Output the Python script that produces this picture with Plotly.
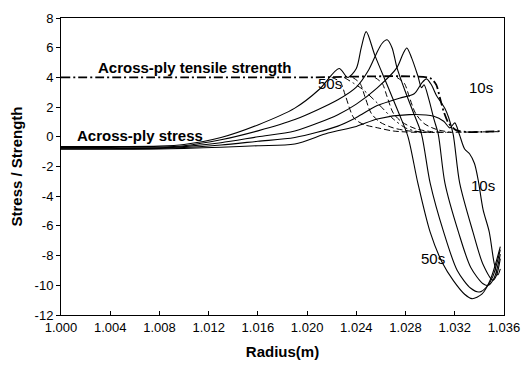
import plotly.graph_objects as go

# ---------------- data ----------------
x_ticks = [1.000, 1.004, 1.008, 1.012, 1.016, 1.020, 1.024, 1.028, 1.032, 1.036]
y_ticks = [8, 6, 4, 2, 0, -2, -4, -6, -8, -10, -12]

# Across-ply stress curves (solid)
stress_50s_x = [1.000, 1.004, 1.008, 1.010, 1.013, 1.016, 1.019, 1.021, 1.0226, 1.0233, 1.0240, 1.0244, 1.0248,
                1.0255, 1.0265, 1.0275, 1.0282, 1.0290, 1.0300, 1.0310, 1.0319, 1.0328, 1.0334, 1.0342, 1.0349, 1.0357]
stress_50s_y = [-0.66, -0.66, -0.63, -0.52, -0.05, 0.8, 1.93, 3.2, 4.6, 4.0, 4.6, 6.0, 7.08,
                5.5, 3.5, 1.5, 0.0, -3.12, -6.42, -8.5, -9.7, -10.6, -10.9, -10.6, -9.6, -7.4]

stress_40s_x = [1.000, 1.004, 1.008, 1.010, 1.013, 1.016, 1.019, 1.0225, 1.024, 1.0250, 1.0256, 1.0261, 1.0265,
                1.0269, 1.0273, 1.0280, 1.0287, 1.0293, 1.0300, 1.0311, 1.0322, 1.0333, 1.0340, 1.0346, 1.0351, 1.0357]
stress_40s_y = [-0.71, -0.71, -0.69, -0.6, -0.2, 0.4, 1.16, 2.5, 3.35, 4.5, 5.55, 6.3, 6.53,
                6.0, 4.66, 3.0, 1.5, 0.17, -3.12, -6.42, -9.0, -10.2, -10.45, -10.1, -9.4, -7.6]

stress_30s_x = [1.000, 1.004, 1.008, 1.010, 1.013, 1.016, 1.019, 1.0225, 1.024, 1.0257, 1.0273, 1.0278, 1.0281,
                1.0285, 1.0290, 1.0293, 1.0295, 1.0299, 1.0303, 1.03066, 1.0312, 1.0323, 1.0333, 1.0343, 1.0347,
                1.0352, 1.0357]
stress_30s_y = [-0.76, -0.76, -0.74, -0.66, -0.4, 0.0, 0.39, 1.49, 2.2, 3.3, 4.66, 5.6, 5.98,
                5.3, 4.1, 3.3, 3.5, 2.5, 1.2, 0.17, -3.12, -6.42, -8.8, -9.9, -10.0,
                -9.5, -7.9]

stress_20s_x = [1.000, 1.004, 1.008, 1.010, 1.013, 1.016, 1.019, 1.0225, 1.024, 1.0257, 1.0275, 1.0287, 1.0293,
                1.0297, 1.0301, 1.0305, 1.0309, 1.0312, 1.0315, 1.03187, 1.0324, 1.03348, 1.0343, 1.0351, 1.0354,
                1.0357]
stress_20s_y = [-0.80, -0.80, -0.78, -0.72, -0.55, -0.3, -0.05, 0.72, 1.3, 2.1, 2.6, 2.9, 3.6,
                3.9, 3.5, 2.8, 2.3, 1.9, 1.3, 0.17, -3.12, -6.42, -8.6, -9.65, -9.3,
                -8.2]

stress_10s_x = [1.000, 1.004, 1.008, 1.010, 1.013, 1.016, 1.019, 1.0217, 1.024, 1.0257, 1.0283, 1.0303, 1.0311,
                1.0316, 1.0320, 1.03237, 1.0328, 1.0332, 1.0336, 1.0339, 1.0343, 1.0348, 1.0352, 1.0355, 1.0357]
stress_10s_y = [-0.84, -0.84, -0.82, -0.78, -0.70, -0.6, -0.49, 0.25, 0.7, 1.2, 1.49, 1.38, 1.05,
                0.6, 0.94, 0.17, -0.82, -1.14, -1.8, -2.9, -4.9, -6.4, -8.5, -9.3, -8.9]

# Across-ply strength curves (dashed)
strength_50s_x = [1.0220, 1.0227, 1.0231, 1.0238, 1.0246, 1.0257, 1.0270, 1.0290, 1.0357]
strength_50s_y = [4.0, 3.68, 2.8, 1.27, 0.83, 0.61, 0.39, 0.3, 0.35]
strength_40s_x = [1.0237, 1.0243, 1.0247, 1.0252, 1.0259, 1.0270, 1.0284, 1.0302]
strength_40s_y = [4.0, 3.6, 2.7, 1.6, 1.0, 0.6, 0.38, 0.3]
strength_30s_x = [1.0255, 1.0261, 1.0265, 1.0270, 1.0277, 1.0288, 1.0301, 1.0313]
strength_30s_y = [4.0, 3.6, 2.7, 1.6, 1.0, 0.55, 0.35, 0.3]
strength_20s_x = [1.0273, 1.0279, 1.0283, 1.0288, 1.0295, 1.0305, 1.0317]
strength_20s_y = [4.0, 3.6, 2.7, 1.6, 0.9, 0.5, 0.3]
strength_fall_x = [1.0230, 1.0245, 1.0258, 1.0270, 1.0280, 1.0290, 1.0300]
strength_fall_y = [4.0, 3.2, 2.2, 1.2, 0.6, 0.35, 0.3]

# Across-ply tensile strength (dash-dot), 10s
tensile_x = [1.000, 1.010, 1.020, 1.0300, 1.0305, 1.0308, 1.0311, 1.0315, 1.0321, 1.0330, 1.0357]
tensile_y = [4.0, 4.0, 4.0, 3.95, 3.5, 2.6, 1.7, 0.9, 0.45, 0.32, 0.38]

# labels: (text, x, y)
curve_labels = [("50s", 1.0219, 3.6), ("10s", 1.0341, 3.3), ("10s", 1.0343, -3.3), ("50s", 1.0302, -8.2)]
series_labels = [("Across-ply tensile strength", 1.01087, 4.64), ("Across-ply stress", 1.0064, 0.1)]

# ---------------- figure ----------------
fig = go.Figure()
font_family = "Liberation Sans, Arial, sans-serif"

for xs, ys in [(stress_50s_x, stress_50s_y), (stress_40s_x, stress_40s_y), (stress_30s_x, stress_30s_y),
               (stress_20s_x, stress_20s_y), (stress_10s_x, stress_10s_y)]:
    fig.add_trace(go.Scatter(x=xs, y=ys, mode="lines",
                             line=dict(color="black", width=1.1, shape="spline", smoothing=0.8)))

for xs, ys in [(strength_50s_x, strength_50s_y), (strength_40s_x, strength_40s_y),
               (strength_30s_x, strength_30s_y), (strength_20s_x, strength_20s_y)]:
    fig.add_trace(go.Scatter(x=xs, y=ys, mode="lines",
                             line=dict(color="black", width=1, dash="6px,3px", shape="spline", smoothing=0.8)))

fig.add_trace(go.Scatter(x=strength_fall_x, y=strength_fall_y, mode="lines",
                         line=dict(color="black", width=1, dash="7px,3px,2px,3px", shape="spline", smoothing=0.8)))

fig.add_trace(go.Scatter(x=tensile_x, y=tensile_y, mode="lines",
                         line=dict(color="black", width=1.8, dash="9px,3px,2px,3px", shape="spline", smoothing=0.6)))

for text, x, y in curve_labels:
    fig.add_annotation(x=x, y=y, text=text, showarrow=False,
                       font=dict(family=font_family, size=15, color="black"))
for text, x, y in series_labels:
    fig.add_annotation(x=x, y=y, text="<b>%s</b>" % text, showarrow=False,
                       font=dict(family=font_family, size=15, color="black"))

fig.update_layout(
    width=531, height=368,
    margin=dict(l=61, r=23, t=11, b=53),
    paper_bgcolor="white", plot_bgcolor="white",
    showlegend=False,
    font=dict(family=font_family, size=13, color="black"),
)
fig.update_xaxes(range=[1.000, 1.036], tickvals=x_ticks, ticktext=["%.3f" % v for v in x_ticks],
                 ticks="inside", ticklen=4, tickcolor="black", showline=True, linecolor="black", linewidth=1,
                 mirror=True, showgrid=False, zeroline=False,
                 title=dict(text="<b>Radius(m)</b>", font=dict(size=15), standoff=12),
                 tickfont=dict(size=13))
fig.update_yaxes(range=[-12, 8], tickvals=y_ticks, ticktext=[str(v) for v in y_ticks],
                 ticks="outside", ticklen=4, tickcolor="black", showline=True, linecolor="black", linewidth=1,
                 mirror=True, showgrid=False, zeroline=False,
                 title=dict(text="<b>Stress / Strength</b>", font=dict(size=15), standoff=8),
                 tickfont=dict(size=13))

fig.write_html("out.html")
